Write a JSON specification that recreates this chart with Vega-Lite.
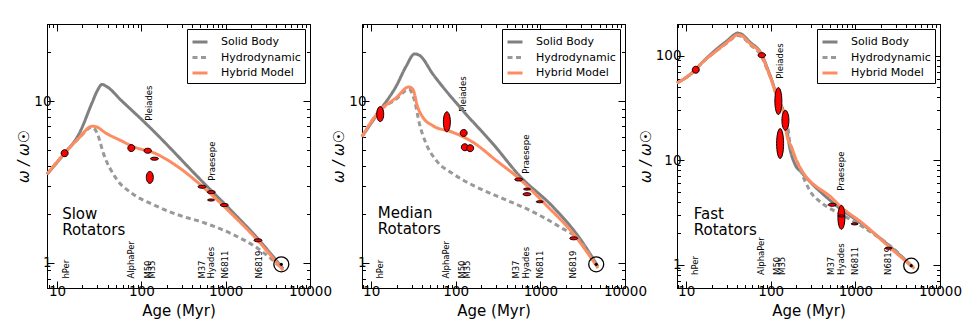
{
  "$schema": "https://vega.github.io/schema/vega-lite/v6.json",
  "bounds": "flush",
  "spacing": 52,
  "padding": {"left": 16, "top": 16, "right": 5, "bottom": 3},
  "config": {
    "font": "DejaVu Sans",
    "view": {"stroke": "black", "strokeWidth": 1},
    "axis": {"labelFont": "DejaVu Sans", "titleFont": "DejaVu Sans", "labelFontSize": 13.5, "titleFontSize": 15, "titleFontWeight": "normal", "labelColor": "black", "titleColor": "black", "domainColor": "black", "tickColor": "black", "grid": false, "labelFlush": false, "labelOverlap": false, "labelPadding": 3, "titlePadding": 2},
    "legend": {"orient": "top-right", "offset": 5, "strokeColor": "black", "fillColor": "white", "padding": 4, "cornerRadius": 0, "symbolType": "stroke", "symbolStrokeWidth": 3, "symbolSize": 225, "labelFont": "DejaVu Sans", "labelFontSize": 11, "labelColor": "black", "labelOffset": 12, "rowPadding": 0.5, "title": null},
    "text": {"font": "DejaVu Sans", "color": "black"}
  },
  "datasets": {
    "curves1": [
      {"model": "Solid Body", "age": 7.6, "omega": 3.54}, {"model": "Solid Body", "age": 12.3, "omega": 4.77}, {"model": "Solid Body", "age": 18.1, "omega": 6.23}, {"model": "Solid Body", "age": 26, "omega": 9.77}, {"model": "Solid Body", "age": 30, "omega": 11.6}, {"model": "Solid Body", "age": 34.2, "omega": 12.7}, {"model": "Solid Body", "age": 38, "omega": 12.4}, {"model": "Solid Body", "age": 59, "omega": 10}, {"model": "Solid Body", "age": 122, "omega": 7.0}, {"model": "Solid Body", "age": 524, "omega": 3.2}, {"model": "Solid Body", "age": 1189, "omega": 2.08}, {"model": "Solid Body", "age": 2248, "omega": 1.47}, {"model": "Solid Body", "age": 4800, "omega": 0.92},
      {"model": "Hydrodynamic", "age": 7.6, "omega": 3.54}, {"model": "Hydrodynamic", "age": 12.3, "omega": 4.77}, {"model": "Hydrodynamic", "age": 18.1, "omega": 5.9}, {"model": "Hydrodynamic", "age": 26, "omega": 6.9}, {"model": "Hydrodynamic", "age": 29.8, "omega": 6.37}, {"model": "Hydrodynamic", "age": 35.8, "omega": 4.69}, {"model": "Hydrodynamic", "age": 49.2, "omega": 3.38}, {"model": "Hydrodynamic", "age": 77.5, "omega": 2.69}, {"model": "Hydrodynamic", "age": 134, "omega": 2.31}, {"model": "Hydrodynamic", "age": 253, "omega": 2.01}, {"model": "Hydrodynamic", "age": 574, "omega": 1.76}, {"model": "Hydrodynamic", "age": 1189, "omega": 1.51}, {"model": "Hydrodynamic", "age": 2460, "omega": 1.22}, {"model": "Hydrodynamic", "age": 4300, "omega": 0.96},
      {"model": "Hybrid Model", "age": 7.6, "omega": 3.54}, {"model": "Hybrid Model", "age": 12.3, "omega": 4.77}, {"model": "Hybrid Model", "age": 18.1, "omega": 5.9}, {"model": "Hybrid Model", "age": 26, "omega": 7.0}, {"model": "Hybrid Model", "age": 29, "omega": 6.95}, {"model": "Hybrid Model", "age": 37.5, "omega": 6.37}, {"model": "Hybrid Model", "age": 59, "omega": 5.66}, {"model": "Hybrid Model", "age": 77.6, "omega": 5.27}, {"model": "Hybrid Model", "age": 146.6, "omega": 4.75}, {"model": "Hybrid Model", "age": 277, "omega": 3.9}, {"model": "Hybrid Model", "age": 574, "omega": 2.86}, {"model": "Hybrid Model", "age": 1189, "omega": 2.0}, {"model": "Hybrid Model", "age": 2248, "omega": 1.43}, {"model": "Hybrid Model", "age": 4800, "omega": 0.9}
    ],
    "curves2": [
      {"model": "Solid Body", "age": 7.8, "omega": 6.04}, {"model": "Solid Body", "age": 12.6, "omega": 8.72}, {"model": "Solid Body", "age": 19.8, "omega": 12.4}, {"model": "Solid Body", "age": 26, "omega": 16.5}, {"model": "Solid Body", "age": 32.6, "omega": 19.6}, {"model": "Solid Body", "age": 37.3, "omega": 19.2}, {"model": "Solid Body", "age": 53.7, "omega": 14.7}, {"model": "Solid Body", "age": 122, "omega": 8.72}, {"model": "Solid Body", "age": 276, "omega": 5.44}, {"model": "Solid Body", "age": 569, "omega": 3.45}, {"model": "Solid Body", "age": 1412, "omega": 2.22}, {"model": "Solid Body", "age": 2917, "omega": 1.42}, {"model": "Solid Body", "age": 4790, "omega": 0.95},
      {"model": "Hydrodynamic", "age": 7.8, "omega": 6.04}, {"model": "Hydrodynamic", "age": 12.6, "omega": 8.72}, {"model": "Hydrodynamic", "age": 19.8, "omega": 10.3}, {"model": "Hydrodynamic", "age": 27.9, "omega": 11.85}, {"model": "Hydrodynamic", "age": 32.6, "omega": 10.05}, {"model": "Hydrodynamic", "age": 37.3, "omega": 7.22}, {"model": "Hydrodynamic", "age": 44.8, "omega": 5.44}, {"model": "Hydrodynamic", "age": 58.8, "omega": 4.3}, {"model": "Hydrodynamic", "age": 92.5, "omega": 3.56}, {"model": "Hydrodynamic", "age": 175, "omega": 2.95}, {"model": "Hydrodynamic", "age": 361, "omega": 2.5}, {"model": "Hydrodynamic", "age": 897, "omega": 2.02}, {"model": "Hydrodynamic", "age": 1694, "omega": 1.67}, {"model": "Hydrodynamic", "age": 2917, "omega": 1.38}, {"model": "Hydrodynamic", "age": 4600, "omega": 0.97},
      {"model": "Hybrid Model", "age": 7.8, "omega": 6.04}, {"model": "Hybrid Model", "age": 12.6, "omega": 8.72}, {"model": "Hybrid Model", "age": 19.8, "omega": 10.5}, {"model": "Hybrid Model", "age": 27.9, "omega": 12.25}, {"model": "Hybrid Model", "age": 31.1, "omega": 11.85}, {"model": "Hybrid Model", "age": 35.6, "omega": 9.14}, {"model": "Hybrid Model", "age": 40.9, "omega": 7.94}, {"model": "Hybrid Model", "age": 53.7, "omega": 7.05}, {"model": "Hybrid Model", "age": 92.5, "omega": 6.42}, {"model": "Hybrid Model", "age": 160, "omega": 5.57}, {"model": "Hybrid Model", "age": 301, "omega": 4.3}, {"model": "Hybrid Model", "age": 569, "omega": 3.3}, {"model": "Hybrid Model", "age": 1178, "omega": 2.27}, {"model": "Hybrid Model", "age": 2440, "omega": 1.52}, {"model": "Hybrid Model", "age": 4790, "omega": 0.93}
    ],
    "curves3": [
      {"model": "Solid Body", "age": 7.8, "omega": 54.6}, {"model": "Solid Body", "age": 12.9, "omega": 73.1}, {"model": "Solid Body", "age": 14.7, "omega": 82}, {"model": "Solid Body", "age": 23.2, "omega": 116}, {"model": "Solid Body", "age": 31, "omega": 140}, {"model": "Solid Body", "age": 37, "omega": 158}, {"model": "Solid Body", "age": 40.4, "omega": 164}, {"model": "Solid Body", "age": 45, "omega": 160}, {"model": "Solid Body", "age": 57, "omega": 134}, {"model": "Solid Body", "age": 78.4, "omega": 102}, {"model": "Solid Body", "age": 89.8, "omega": 78}, {"model": "Solid Body", "age": 103, "omega": 58}, {"model": "Solid Body", "age": 112, "omega": 47}, {"model": "Solid Body", "age": 125, "omega": 37.5}, {"model": "Solid Body", "age": 150, "omega": 24}, {"model": "Solid Body", "age": 165, "omega": 14}, {"model": "Solid Body", "age": 193, "omega": 9.16}, {"model": "Solid Body", "age": 232, "omega": 7.62}, {"model": "Solid Body", "age": 546, "omega": 3.9}, {"model": "Solid Body", "age": 1335, "omega": 2.3}, {"model": "Solid Body", "age": 2506, "omega": 1.52}, {"model": "Solid Body", "age": 4800, "omega": 0.95},
      {"model": "Hydrodynamic", "age": 7.8, "omega": 54.6}, {"model": "Hydrodynamic", "age": 12.9, "omega": 73.1}, {"model": "Hydrodynamic", "age": 14.7, "omega": 82}, {"model": "Hydrodynamic", "age": 23.2, "omega": 112}, {"model": "Hydrodynamic", "age": 31, "omega": 133}, {"model": "Hydrodynamic", "age": 40.4, "omega": 155}, {"model": "Hydrodynamic", "age": 45, "omega": 152}, {"model": "Hydrodynamic", "age": 57, "omega": 127}, {"model": "Hydrodynamic", "age": 78.4, "omega": 97}, {"model": "Hydrodynamic", "age": 89.8, "omega": 75}, {"model": "Hydrodynamic", "age": 103, "omega": 57}, {"model": "Hydrodynamic", "age": 112, "omega": 47}, {"model": "Hydrodynamic", "age": 125, "omega": 37}, {"model": "Hydrodynamic", "age": 140, "omega": 29}, {"model": "Hydrodynamic", "age": 160, "omega": 20}, {"model": "Hydrodynamic", "age": 169, "omega": 14.2}, {"model": "Hydrodynamic", "age": 185, "omega": 11.5}, {"model": "Hydrodynamic", "age": 211, "omega": 9.16}, {"model": "Hydrodynamic", "age": 253, "omega": 6.35}, {"model": "Hydrodynamic", "age": 290, "omega": 5.1}, {"model": "Hydrodynamic", "age": 416, "omega": 3.81}, {"model": "Hydrodynamic", "age": 700, "omega": 3.0}, {"model": "Hydrodynamic", "age": 1335, "omega": 2.2}, {"model": "Hydrodynamic", "age": 3311, "omega": 1.27}, {"model": "Hydrodynamic", "age": 4600, "omega": 0.97},
      {"model": "Hybrid Model", "age": 7.8, "omega": 54.6}, {"model": "Hybrid Model", "age": 12.9, "omega": 73.1}, {"model": "Hybrid Model", "age": 14.7, "omega": 82}, {"model": "Hybrid Model", "age": 23.2, "omega": 112}, {"model": "Hybrid Model", "age": 31, "omega": 135}, {"model": "Hybrid Model", "age": 37, "omega": 152}, {"model": "Hybrid Model", "age": 40.4, "omega": 158}, {"model": "Hybrid Model", "age": 45, "omega": 155}, {"model": "Hybrid Model", "age": 57, "omega": 130}, {"model": "Hybrid Model", "age": 78.4, "omega": 100}, {"model": "Hybrid Model", "age": 89.8, "omega": 76.2}, {"model": "Hybrid Model", "age": 103, "omega": 56.9}, {"model": "Hybrid Model", "age": 112, "omega": 45.7}, {"model": "Hybrid Model", "age": 125, "omega": 36.7}, {"model": "Hybrid Model", "age": 147, "omega": 23.7}, {"model": "Hybrid Model", "age": 154, "omega": 17.7}, {"model": "Hybrid Model", "age": 177, "omega": 13.2}, {"model": "Hybrid Model", "age": 202, "omega": 9.84}, {"model": "Hybrid Model", "age": 232, "omega": 8.03}, {"model": "Hybrid Model", "age": 545, "omega": 4.25}, {"model": "Hybrid Model", "age": 653, "omega": 3.67}, {"model": "Hybrid Model", "age": 1250, "omega": 2.45}, {"model": "Hybrid Model", "age": 2535, "omega": 1.47}, {"model": "Hybrid Model", "age": 4990, "omega": 0.92}
    ],
    "points1": [
      {"age": 12.3, "omega": 4.77, "spread": "round"}, {"age": 76, "omega": 5.13, "spread": "round"}, {"age": 119, "omega": 4.94, "spread": "wide"}, {"age": 143, "omega": 4.41, "spread": "flat"}, {"age": 126, "omega": 3.38, "spread": "tall12"}, {"age": 524, "omega": 2.96, "spread": "flat"}, {"age": 676, "omega": 2.74, "spread": "flat"}, {"age": 670, "omega": 2.45, "spread": "dash"}, {"age": 964, "omega": 2.28, "spread": "flat"}, {"age": 2415, "omega": 1.38, "spread": "flat"}
    ],
    "points2": [
      {"age": 12.8, "omega": 8.32, "spread": "tall15"}, {"age": 78.5, "omega": 7.46, "spread": "tall20"}, {"age": 124, "omega": 6.36, "spread": "round"}, {"age": 128, "omega": 5.19, "spread": "round"}, {"age": 148, "omega": 5.12, "spread": "round"}, {"age": 555, "omega": 3.28, "spread": "flat"}, {"age": 695, "omega": 2.86, "spread": "dash"}, {"age": 695, "omega": 2.66, "spread": "flat"}, {"age": 982, "omega": 2.39, "spread": "dash"}, {"age": 2477, "omega": 1.42, "spread": "flat"}
    ],
    "points3": [
      {"age": 13.0, "omega": 73.1, "spread": "round"}, {"age": 78.4, "omega": 100.7, "spread": "wide"}, {"age": 123, "omega": 36.7, "spread": "tall27"}, {"age": 149, "omega": 24.0, "spread": "tall20"}, {"age": 129, "omega": 14.4, "spread": "tall30"}, {"age": 532, "omega": 3.75, "spread": "flat"}, {"age": 684, "omega": 2.84, "spread": "tall24"}, {"age": 684, "omega": 2.93, "spread": "dash"}, {"age": 982, "omega": 2.46, "spread": "dash"}, {"age": 2466, "omega": 1.44, "spread": "dash"}
    ],
    "sun": [{"age": 4570, "omega": 0.98}],
    "clusters": [
      {"name": "hPer", "age": 12.8, "omega": 0.8}, {"name": "AlphaPer", "age": 76, "omega": 0.8}, {"name": "M50", "age": 120, "omega": 0.8}, {"name": "M35", "age": 135, "omega": 0.8}, {"name": "M37", "age": 520, "omega": 0.8}, {"name": "Hyades", "age": 670, "omega": 0.8}, {"name": "N6811", "age": 980, "omega": 0.8}, {"name": "N6819", "age": 2460, "omega": 0.8}
    ],
    "named1": [{"name": "Pleiades", "age": 122, "omega": 7.56}, {"name": "Praesepe", "age": 689, "omega": 3.22}],
    "named2": [{"name": "Pleiades", "age": 122, "omega": 8.6}, {"name": "Praesepe", "age": 682, "omega": 3.56}],
    "named3": [{"name": "Pleiades", "age": 128, "omega": 60}, {"name": "Praesepe", "age": 679, "omega": 5.09}],
    "title1": [{"line": "Slow", "age": 11.5, "omega": 1.87}, {"line": "Rotators", "age": 11.5, "omega": 1.48}],
    "title2": [{"line": "Median", "age": 12.0, "omega": 1.9}, {"line": "Rotators", "age": 12.0, "omega": 1.52}],
    "title3": [{"line": "Fast", "age": 12.3, "omega": 2.74}, {"line": "Rotators", "age": 12.3, "omega": 1.92}]
  },
  "hconcat": [
    {
      "width": 263, "height": 264,
      "layer": [
        {"data": {"name": "clusters"}, "mark": {"type": "text", "angle": 270, "align": "left", "baseline": "middle", "fontSize": 8.5}, "encoding": {"x": {"field": "age", "type": "quantitative", "scale": {"type": "log", "domain": [7.6, 10000], "nice": false}, "axis": null}, "y": {"field": "omega", "type": "quantitative", "scale": {"type": "log", "domain": [0.7, 30], "nice": false}, "axis": null}, "text": {"field": "name"}}},
        {"data": {"name": "named1"}, "mark": {"type": "text", "angle": 270, "align": "left", "baseline": "middle", "fontSize": 8.5}, "encoding": {"x": {"field": "age", "type": "quantitative", "axis": null}, "y": {"field": "omega", "type": "quantitative", "axis": null}, "text": {"field": "name"}}},
        {"data": {"name": "title1"}, "mark": {"type": "text", "align": "left", "baseline": "alphabetic", "fontSize": 15}, "encoding": {"x": {"field": "age", "type": "quantitative", "axis": null}, "y": {"field": "omega", "type": "quantitative", "axis": null}, "text": {"field": "line"}}},
        {"data": {"name": "curves1"}, "transform": [{"filter": "datum.model == 'Solid Body'"}], "mark": {"type": "line", "strokeWidth": 3, "interpolate": "monotone"},
         "encoding": {
           "x": {"field": "age", "type": "quantitative", "axis": {"orient": "bottom", "title": "Age (Myr)", "values": [8,9,10,20,30,40,50,60,70,80,90,100,200,300,400,500,600,700,800,900,1000,2000,3000,4000,5000,6000,7000,8000,9000,10000], "format": "d", "labelExpr": "abs(log(datum.value)/LN10 - round(log(datum.value)/LN10)) < 0.001 ? datum.label : ''", "tickSize": {"condition": {"test": "abs(log(datum.value)/LN10 - round(log(datum.value)/LN10)) < 0.001", "value": -7}, "value": -3.5}}},
           "y": {"field": "omega", "type": "quantitative", "axis": {"orient": "left", "title": "ω / ω☉", "titleFontSize": 15, "titleFontStyle": "italic", "values": [0.7,0.8,0.9,1,2,3,4,5,6,7,8,9,10,20,30], "format": "d", "labelExpr": "abs(log(datum.value)/LN10 - round(log(datum.value)/LN10)) < 0.001 ? datum.label : ''", "tickSize": {"condition": {"test": "abs(log(datum.value)/LN10 - round(log(datum.value)/LN10)) < 0.001", "value": -7}, "value": -3.5}}},
           "color": {"field": "model", "type": "nominal", "scale": {"domain": ["Solid Body", "Hydrodynamic", "Hybrid Model"], "range": ["#808080", "#999999", "#fc8d62"]}},
           "strokeDash": {"field": "model", "type": "nominal", "scale": {"domain": ["Solid Body", "Hydrodynamic", "Hybrid Model"], "range": [[1, 0], [5, 3.5], [1, 0]]}}
         }},
        {"data": {"name": "curves1"}, "transform": [{"filter": "datum.model == 'Hydrodynamic'"}], "mark": {"type": "line", "strokeWidth": 3, "interpolate": "monotone"},
         "encoding": {"x": {"field": "age", "type": "quantitative", "axis": null}, "y": {"field": "omega", "type": "quantitative", "axis": null}, "color": {"field": "model", "type": "nominal"}, "strokeDash": {"field": "model", "type": "nominal"}}},
        {"data": {"name": "curves1"}, "transform": [{"filter": "datum.model == 'Hybrid Model'"}], "mark": {"type": "line", "strokeWidth": 3, "interpolate": "monotone"},
         "encoding": {"x": {"field": "age", "type": "quantitative", "axis": null}, "y": {"field": "omega", "type": "quantitative", "axis": null}, "color": {"field": "model", "type": "nominal"}, "strokeDash": {"field": "model", "type": "nominal"}}},
        {"data": {"name": "points1"}, "mark": {"type": "point", "filled": true, "fill": "#ff0000", "stroke": "black", "strokeWidth": 1, "opacity": 1, "size": 900},
         "encoding": {
           "x": {"field": "age", "type": "quantitative", "axis": {"orient": "top", "labels": false, "title": null, "values": [8,9,10,20,30,40,50,60,70,80,90,100,200,300,400,500,600,700,800,900,1000,2000,3000,4000,5000,6000,7000,8000,9000,10000], "tickSize": {"condition": {"test": "abs(log(datum.value)/LN10 - round(log(datum.value)/LN10)) < 0.001", "value": -7}, "value": -3.5}}},
           "y": {"field": "omega", "type": "quantitative", "axis": {"orient": "right", "labels": false, "title": null, "values": [0.7,0.8,0.9,1,2,3,4,5,6,7,8,9,10,20,30], "tickSize": {"condition": {"test": "abs(log(datum.value)/LN10 - round(log(datum.value)/LN10)) < 0.001", "value": -7}, "value": -3.5}}},
           "shape": {"field": "spread", "type": "nominal", "legend": null, "scale": {"domain": ["round", "wide", "flat", "dash", "tall12", "tall15", "tall20", "tall24", "tall27", "tall30"], "range": ["M-0.233,0A0.233,0.233 0 1,0 0.233,0A0.233,0.233 0 1,0 -0.233,0Z", "M-0.25,0A0.25,0.167 0 1,0 0.25,0A0.25,0.167 0 1,0 -0.25,0Z", "M-0.267,0A0.267,0.1 0 1,0 0.267,0A0.267,0.1 0 1,0 -0.267,0Z", "M-0.233,0A0.233,0.067 0 1,0 0.233,0A0.233,0.067 0 1,0 -0.233,0Z", "M-0.233,0A0.233,0.4 0 1,0 0.233,0A0.233,0.4 0 1,0 -0.233,0Z", "M-0.233,0A0.233,0.5 0 1,0 0.233,0A0.233,0.5 0 1,0 -0.233,0Z", "M-0.233,0A0.233,0.667 0 1,0 0.233,0A0.233,0.667 0 1,0 -0.233,0Z", "M-0.233,0A0.233,0.8 0 1,0 0.233,0A0.233,0.8 0 1,0 -0.233,0Z", "M-0.233,0A0.233,0.9 0 1,0 0.233,0A0.233,0.9 0 1,0 -0.233,0Z", "M-0.233,0A0.233,1 0 1,0 0.233,0A0.233,1 0 1,0 -0.233,0Z"]}}
         }},
        {"data": {"name": "sun"}, "mark": {"type": "point", "shape": "circle", "filled": false, "stroke": "black", "strokeWidth": 1.3, "opacity": 1, "size": 225}, "encoding": {"x": {"field": "age", "type": "quantitative", "axis": null}, "y": {"field": "omega", "type": "quantitative", "axis": null}}},
        {"data": {"name": "sun"}, "mark": {"type": "point", "shape": "circle", "filled": true, "fill": "black", "opacity": 1, "size": 10}, "encoding": {"x": {"field": "age", "type": "quantitative", "axis": null}, "y": {"field": "omega", "type": "quantitative", "axis": null}}}
      ],
      "resolve": {"axis": {"x": "independent", "y": "independent"}}
    },
    {
      "width": 263, "height": 264,
      "layer": [
        {"data": {"name": "clusters"}, "mark": {"type": "text", "angle": 270, "align": "left", "baseline": "middle", "fontSize": 8.5}, "encoding": {"x": {"field": "age", "type": "quantitative", "scale": {"type": "log", "domain": [7.8, 10000], "nice": false}, "axis": null}, "y": {"field": "omega", "type": "quantitative", "scale": {"type": "log", "domain": [0.7, 30], "nice": false}, "axis": null}, "text": {"field": "name"}}},
        {"data": {"name": "named2"}, "mark": {"type": "text", "angle": 270, "align": "left", "baseline": "middle", "fontSize": 8.5}, "encoding": {"x": {"field": "age", "type": "quantitative", "axis": null}, "y": {"field": "omega", "type": "quantitative", "axis": null}, "text": {"field": "name"}}},
        {"data": {"name": "title2"}, "mark": {"type": "text", "align": "left", "baseline": "alphabetic", "fontSize": 15}, "encoding": {"x": {"field": "age", "type": "quantitative", "axis": null}, "y": {"field": "omega", "type": "quantitative", "axis": null}, "text": {"field": "line"}}},
        {"data": {"name": "curves2"}, "transform": [{"filter": "datum.model == 'Solid Body'"}], "mark": {"type": "line", "strokeWidth": 3, "interpolate": "monotone"},
         "encoding": {
           "x": {"field": "age", "type": "quantitative", "axis": {"orient": "bottom", "title": "Age (Myr)", "values": [8,9,10,20,30,40,50,60,70,80,90,100,200,300,400,500,600,700,800,900,1000,2000,3000,4000,5000,6000,7000,8000,9000,10000], "format": "d", "labelExpr": "abs(log(datum.value)/LN10 - round(log(datum.value)/LN10)) < 0.001 ? datum.label : ''", "tickSize": {"condition": {"test": "abs(log(datum.value)/LN10 - round(log(datum.value)/LN10)) < 0.001", "value": -7}, "value": -3.5}}},
           "y": {"field": "omega", "type": "quantitative", "axis": {"orient": "left", "title": "ω / ω☉", "titleFontSize": 15, "titleFontStyle": "italic", "values": [0.7,0.8,0.9,1,2,3,4,5,6,7,8,9,10,20,30], "format": "d", "labelExpr": "abs(log(datum.value)/LN10 - round(log(datum.value)/LN10)) < 0.001 ? datum.label : ''", "tickSize": {"condition": {"test": "abs(log(datum.value)/LN10 - round(log(datum.value)/LN10)) < 0.001", "value": -7}, "value": -3.5}}},
           "color": {"field": "model", "type": "nominal", "scale": {"domain": ["Solid Body", "Hydrodynamic", "Hybrid Model"], "range": ["#808080", "#999999", "#fc8d62"]}},
           "strokeDash": {"field": "model", "type": "nominal", "scale": {"domain": ["Solid Body", "Hydrodynamic", "Hybrid Model"], "range": [[1, 0], [5, 3.5], [1, 0]]}}
         }},
        {"data": {"name": "curves2"}, "transform": [{"filter": "datum.model == 'Hydrodynamic'"}], "mark": {"type": "line", "strokeWidth": 3, "interpolate": "monotone"},
         "encoding": {"x": {"field": "age", "type": "quantitative", "axis": null}, "y": {"field": "omega", "type": "quantitative", "axis": null}, "color": {"field": "model", "type": "nominal"}, "strokeDash": {"field": "model", "type": "nominal"}}},
        {"data": {"name": "curves2"}, "transform": [{"filter": "datum.model == 'Hybrid Model'"}], "mark": {"type": "line", "strokeWidth": 3, "interpolate": "monotone"},
         "encoding": {"x": {"field": "age", "type": "quantitative", "axis": null}, "y": {"field": "omega", "type": "quantitative", "axis": null}, "color": {"field": "model", "type": "nominal"}, "strokeDash": {"field": "model", "type": "nominal"}}},
        {"data": {"name": "points2"}, "mark": {"type": "point", "filled": true, "fill": "#ff0000", "stroke": "black", "strokeWidth": 1, "opacity": 1, "size": 900},
         "encoding": {
           "x": {"field": "age", "type": "quantitative", "axis": {"orient": "top", "labels": false, "title": null, "values": [8,9,10,20,30,40,50,60,70,80,90,100,200,300,400,500,600,700,800,900,1000,2000,3000,4000,5000,6000,7000,8000,9000,10000], "tickSize": {"condition": {"test": "abs(log(datum.value)/LN10 - round(log(datum.value)/LN10)) < 0.001", "value": -7}, "value": -3.5}}},
           "y": {"field": "omega", "type": "quantitative", "axis": {"orient": "right", "labels": false, "title": null, "values": [0.7,0.8,0.9,1,2,3,4,5,6,7,8,9,10,20,30], "tickSize": {"condition": {"test": "abs(log(datum.value)/LN10 - round(log(datum.value)/LN10)) < 0.001", "value": -7}, "value": -3.5}}},
           "shape": {"field": "spread", "type": "nominal", "legend": null, "scale": {"domain": ["round", "wide", "flat", "dash", "tall12", "tall15", "tall20", "tall24", "tall27", "tall30"], "range": ["M-0.233,0A0.233,0.233 0 1,0 0.233,0A0.233,0.233 0 1,0 -0.233,0Z", "M-0.25,0A0.25,0.167 0 1,0 0.25,0A0.25,0.167 0 1,0 -0.25,0Z", "M-0.267,0A0.267,0.1 0 1,0 0.267,0A0.267,0.1 0 1,0 -0.267,0Z", "M-0.233,0A0.233,0.067 0 1,0 0.233,0A0.233,0.067 0 1,0 -0.233,0Z", "M-0.233,0A0.233,0.4 0 1,0 0.233,0A0.233,0.4 0 1,0 -0.233,0Z", "M-0.233,0A0.233,0.5 0 1,0 0.233,0A0.233,0.5 0 1,0 -0.233,0Z", "M-0.233,0A0.233,0.667 0 1,0 0.233,0A0.233,0.667 0 1,0 -0.233,0Z", "M-0.233,0A0.233,0.8 0 1,0 0.233,0A0.233,0.8 0 1,0 -0.233,0Z", "M-0.233,0A0.233,0.9 0 1,0 0.233,0A0.233,0.9 0 1,0 -0.233,0Z", "M-0.233,0A0.233,1 0 1,0 0.233,0A0.233,1 0 1,0 -0.233,0Z"]}}
         }},
        {"data": {"name": "sun"}, "mark": {"type": "point", "shape": "circle", "filled": false, "stroke": "black", "strokeWidth": 1.3, "opacity": 1, "size": 225}, "encoding": {"x": {"field": "age", "type": "quantitative", "axis": null}, "y": {"field": "omega", "type": "quantitative", "axis": null}}},
        {"data": {"name": "sun"}, "mark": {"type": "point", "shape": "circle", "filled": true, "fill": "black", "opacity": 1, "size": 10}, "encoding": {"x": {"field": "age", "type": "quantitative", "axis": null}, "y": {"field": "omega", "type": "quantitative", "axis": null}}}
      ],
      "resolve": {"axis": {"x": "independent", "y": "independent"}}
    },
    {
      "width": 263, "height": 264,
      "layer": [
        {"data": {"name": "clusters"}, "mark": {"type": "text", "angle": 270, "align": "left", "baseline": "middle", "fontSize": 8.5}, "encoding": {"x": {"field": "age", "type": "quantitative", "scale": {"type": "log", "domain": [7.8, 10000], "nice": false}, "axis": null}, "y": {"field": "omega", "type": "quantitative", "scale": {"type": "log", "domain": [0.6, 200], "nice": false}, "axis": null}, "text": {"field": "name"}}},
        {"data": {"name": "named3"}, "mark": {"type": "text", "angle": 270, "align": "left", "baseline": "middle", "fontSize": 8.5}, "encoding": {"x": {"field": "age", "type": "quantitative", "axis": null}, "y": {"field": "omega", "type": "quantitative", "axis": null}, "text": {"field": "name"}}},
        {"data": {"name": "title3"}, "mark": {"type": "text", "align": "left", "baseline": "alphabetic", "fontSize": 15}, "encoding": {"x": {"field": "age", "type": "quantitative", "axis": null}, "y": {"field": "omega", "type": "quantitative", "axis": null}, "text": {"field": "line"}}},
        {"data": {"name": "curves3"}, "transform": [{"filter": "datum.model == 'Solid Body'"}], "mark": {"type": "line", "strokeWidth": 3, "interpolate": "monotone"},
         "encoding": {
           "x": {"field": "age", "type": "quantitative", "axis": {"orient": "bottom", "title": "Age (Myr)", "values": [8,9,10,20,30,40,50,60,70,80,90,100,200,300,400,500,600,700,800,900,1000,2000,3000,4000,5000,6000,7000,8000,9000,10000], "format": "d", "labelExpr": "abs(log(datum.value)/LN10 - round(log(datum.value)/LN10)) < 0.001 ? datum.label : ''", "tickSize": {"condition": {"test": "abs(log(datum.value)/LN10 - round(log(datum.value)/LN10)) < 0.001", "value": -7}, "value": -3.5}}},
           "y": {"field": "omega", "type": "quantitative", "axis": {"orient": "left", "title": "ω / ω☉", "titleFontSize": 15, "titleFontStyle": "italic", "values": [0.6,0.7,0.8,0.9,1,2,3,4,5,6,7,8,9,10,20,30,40,50,60,70,80,90,100,200], "format": "d", "labelExpr": "abs(log(datum.value)/LN10 - round(log(datum.value)/LN10)) < 0.001 ? datum.label : ''", "tickSize": {"condition": {"test": "abs(log(datum.value)/LN10 - round(log(datum.value)/LN10)) < 0.001", "value": -7}, "value": -3.5}}},
           "color": {"field": "model", "type": "nominal", "scale": {"domain": ["Solid Body", "Hydrodynamic", "Hybrid Model"], "range": ["#808080", "#999999", "#fc8d62"]}},
           "strokeDash": {"field": "model", "type": "nominal", "scale": {"domain": ["Solid Body", "Hydrodynamic", "Hybrid Model"], "range": [[1, 0], [5, 3.5], [1, 0]]}}
         }},
        {"data": {"name": "curves3"}, "transform": [{"filter": "datum.model == 'Hydrodynamic'"}], "mark": {"type": "line", "strokeWidth": 3, "interpolate": "monotone"},
         "encoding": {"x": {"field": "age", "type": "quantitative", "axis": null}, "y": {"field": "omega", "type": "quantitative", "axis": null}, "color": {"field": "model", "type": "nominal"}, "strokeDash": {"field": "model", "type": "nominal"}}},
        {"data": {"name": "curves3"}, "transform": [{"filter": "datum.model == 'Hybrid Model'"}], "mark": {"type": "line", "strokeWidth": 3, "interpolate": "monotone"},
         "encoding": {"x": {"field": "age", "type": "quantitative", "axis": null}, "y": {"field": "omega", "type": "quantitative", "axis": null}, "color": {"field": "model", "type": "nominal"}, "strokeDash": {"field": "model", "type": "nominal"}}},
        {"data": {"name": "points3"}, "mark": {"type": "point", "filled": true, "fill": "#ff0000", "stroke": "black", "strokeWidth": 1, "opacity": 1, "size": 900},
         "encoding": {
           "x": {"field": "age", "type": "quantitative", "axis": {"orient": "top", "labels": false, "title": null, "values": [8,9,10,20,30,40,50,60,70,80,90,100,200,300,400,500,600,700,800,900,1000,2000,3000,4000,5000,6000,7000,8000,9000,10000], "tickSize": {"condition": {"test": "abs(log(datum.value)/LN10 - round(log(datum.value)/LN10)) < 0.001", "value": -7}, "value": -3.5}}},
           "y": {"field": "omega", "type": "quantitative", "axis": {"orient": "right", "labels": false, "title": null, "values": [0.6,0.7,0.8,0.9,1,2,3,4,5,6,7,8,9,10,20,30,40,50,60,70,80,90,100,200], "tickSize": {"condition": {"test": "abs(log(datum.value)/LN10 - round(log(datum.value)/LN10)) < 0.001", "value": -7}, "value": -3.5}}},
           "shape": {"field": "spread", "type": "nominal", "legend": null, "scale": {"domain": ["round", "wide", "flat", "dash", "tall12", "tall15", "tall20", "tall24", "tall27", "tall30"], "range": ["M-0.233,0A0.233,0.233 0 1,0 0.233,0A0.233,0.233 0 1,0 -0.233,0Z", "M-0.25,0A0.25,0.167 0 1,0 0.25,0A0.25,0.167 0 1,0 -0.25,0Z", "M-0.267,0A0.267,0.1 0 1,0 0.267,0A0.267,0.1 0 1,0 -0.267,0Z", "M-0.233,0A0.233,0.067 0 1,0 0.233,0A0.233,0.067 0 1,0 -0.233,0Z", "M-0.233,0A0.233,0.4 0 1,0 0.233,0A0.233,0.4 0 1,0 -0.233,0Z", "M-0.233,0A0.233,0.5 0 1,0 0.233,0A0.233,0.5 0 1,0 -0.233,0Z", "M-0.233,0A0.233,0.667 0 1,0 0.233,0A0.233,0.667 0 1,0 -0.233,0Z", "M-0.233,0A0.233,0.8 0 1,0 0.233,0A0.233,0.8 0 1,0 -0.233,0Z", "M-0.233,0A0.233,0.9 0 1,0 0.233,0A0.233,0.9 0 1,0 -0.233,0Z", "M-0.233,0A0.233,1 0 1,0 0.233,0A0.233,1 0 1,0 -0.233,0Z"]}}
         }},
        {"data": {"name": "sun"}, "mark": {"type": "point", "shape": "circle", "filled": false, "stroke": "black", "strokeWidth": 1.3, "opacity": 1, "size": 225}, "encoding": {"x": {"field": "age", "type": "quantitative", "axis": null}, "y": {"field": "omega", "type": "quantitative", "axis": null}}},
        {"data": {"name": "sun"}, "mark": {"type": "point", "shape": "circle", "filled": true, "fill": "black", "opacity": 1, "size": 10}, "encoding": {"x": {"field": "age", "type": "quantitative", "axis": null}, "y": {"field": "omega", "type": "quantitative", "axis": null}}}
      ],
      "resolve": {"axis": {"x": "independent", "y": "independent"}}
    }
  ],
  "resolve": {"scale": {"x": "independent", "y": "independent", "color": "independent", "strokeDash": "independent", "shape": "independent"}, "legend": {"color": "independent", "strokeDash": "independent"}}
}
